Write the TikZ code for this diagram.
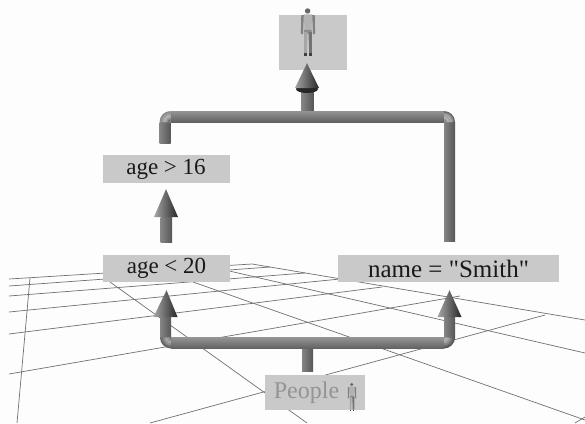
\documentclass[tikz,border=0pt]{standalone}
\usepackage{fontspec}
\newfontfamily\labelfont{Liberation Serif}
\usetikzlibrary{calc}
\definecolor{paper}{HTML}{FDFDFD}
\definecolor{boxgray}{HTML}{C9C9C9}
\definecolor{gridgray}{HTML}{707070}
\tikzset{
  gridline/.style={draw=gridgray,line width=0.7pt},
  label box/.style={fill=boxgray,inner sep=0pt,font=\labelfont\fontsize{23}{23}\selectfont,text=black!90},
  hpipe/.style={top color=black!42,middle color=black!28,bottom color=black!62,shading angle=0},
  vpipe/.style={left color=black!48,middle color=black!33,right color=black!66},
  conehead/.style={left color=black!35,middle color=black!48,right color=black!85},
}
\newcommand{\hseg}[2]{\shade[hpipe] ($(#1)+(0,-5.5)$) rectangle ($(#2)+(0,5.5)$);}
\newcommand{\vseg}[2]{\shade[vpipe] ($(#1)+(-5.5,0)$) rectangle ($(#2)+(5.5,0)$);}
\newcommand{\cone}[2]{\shade[conehead] (#1) -- ($(#2)+(-12,0)$) -- ($(#2)+(12,0)$) -- cycle;}
% #1 inner corner, #2 start angle, #3 end angle, #4 radius/percent list from outer to inner
\newcommand{\elbow}[4]{\foreach \rr/\pc in {#4}{%
  \fill[black!\pc] (#1) -- ++(#2:\rr) arc[start angle=#2,end angle=#3,radius=\rr] -- cycle;}}
\newcommand{\low}[1]{\raisebox{-1.5pt}{#1}}
\newcommand{\personglyph}[3]{%
  \begin{scope}[shift={(#1,#2)},scale=#3]
    \fill[black!60] (-0.2,-10) circle (1.3);
    \fill[black!30] (-2,-8.4) -- (2,-8.4) -- (1.6,0) -- (-1.6,0) -- cycle;
    \fill[black!50] (-3.2,-8) -- (-2,-8) -- (-2.4,1) -- (-3.4,1) -- cycle;
    \fill[black!50] (2,-8) -- (3.2,-8) -- (3.4,1) -- (2.4,1) -- cycle;
    \fill[black!45] (-1.8,-1) -- (1.8,-1) -- (1.7,0.6) -- (-1.8,0.6) -- cycle;
    \fill[black!35] (-1.8,0) -- (-0.2,0) -- (-0.6,10) -- (-1.8,10) -- cycle;
    \fill[black!55] (0.2,0) -- (1.8,0) -- (1.8,10) -- (0.6,10) -- cycle;
    \fill[black!75] (-2,10) rectangle (-0.7,11.5);
    \fill[black!75] (0.6,10) rectangle (1.9,11.5);
  \end{scope}}
\begin{document}
\begin{tikzpicture}[x=1pt,y=-1pt]
\useasboundingbox (0,0) rectangle (585,423);
\fill[paper] (0,0) rectangle (585,423);
% ground grid
\draw[gridline] (9,279) -- (252,264) -- (585,320);
\draw[gridline] (9,286) -- (270,267);
\draw[gridline] (9,296) -- (305,273);
\draw[gridline] (9,312) -- (340,279);
\draw[gridline] (9,334) -- (382,287);
\draw[gridline] (9,374) -- (460,296);
\draw[gridline] (150,423) -- (545,315);
\draw[gridline] (30,278) -- (17,423);
\draw[gridline] (110,282) -- (307,423);
\draw[gridline] (193,282) -- (585,420);
\draw[gridline] (225,270) -- (585,353);
\draw[gridline] (575,423) -- (585,417);
% boxes
\node[label box,minimum width=68pt,minimum height=55pt] (result) at (313,42.5) {};
\node[label box,minimum width=127pt,minimum height=28pt] (older) at (166,169) {\low{age > 16}};
\node[label box,minimum width=127pt,minimum height=27pt] (younger) at (166.5,268.5) {\low{age < 20}};
\node[label box,minimum width=221pt,minimum height=27pt,font=\labelfont\fontsize{25}{25}\selectfont] (name) at (448.5,268.5) {\low{name = "Smith"}};
\node[label box,minimum width=100pt,minimum height=35pt,text=black!42,font=\labelfont\fontsize{24}{24}\selectfont] (people) at (315,392.5) {\low{People\hspace{17pt}\mbox{}}};
\personglyph{352}{397}{1.25}
\personglyph{308}{32}{2.1}
% junction points
\coordinate (jl) at (165.5,343);
\coordinate (jr) at (449.5,343);
\coordinate (jm) at (307.5,343);
\coordinate (tl) at (165,116.5);
\coordinate (tr) at (449.5,116.5);
\coordinate (tm) at (308,116.5);
\coordinate (headA) at (166,217);
\coordinate (headB) at (165.5,317);
\coordinate (headC) at (449.5,317);
\coordinate (headD) at (307,88);
% lower fork
\vseg{jm}{$(people.north)+(-7.5,-3)$}
\hseg{$(jl)+(5.5,0)$}{$(jr)+(-5.5,0)$}
\vseg{headB}{$(jl)+(0,-5.5)$}
\vseg{headC}{$(jr)+(0,-5.5)$}
\elbow{$(jl)+(5.5,-5.5)$}{90}{180}{11/62,9.5/55,8/45,6/35,4/42,2/55}
\elbow{$(jr)+(-5.5,-5.5)$}{0}{90}{11/66,9.5/60,8/50,6/38,4/30,2/35}
\cone{$(younger.south)+(0,8)$}{headB}
\cone{$(name.south)+(1,8)$}{headC}
% middle arrow
\vseg{headA}{$(younger.north)+(0,-12)$}
\cone{$(older.south)+(0,6)$}{headA}
% upper pipe
\vseg{headD}{tm}
\vseg{$(tl)+(0,5.5)$}{$(older.north)+(-1,-11)$}
\vseg{$(tr)+(0,5.5)$}{$(name.north)+(1,-13)$}
\hseg{$(tl)+(5.5,0)$}{$(tr)+(-5.5,0)$}
\elbow{$(tl)+(5.5,5.5)$}{180}{270}{11/45,9/38,7/30,5/40,3/55}
\elbow{$(tr)+(-5.5,5.5)$}{270}{360}{11/60,9.5/45,8/35,5/30,3/45}
\fill[black!85] ($(headD)+(0,1)$) ellipse (11 and 4);
\cone{$(result.south)+(-6,-7)$}{headD}
\end{tikzpicture}
\end{document}
